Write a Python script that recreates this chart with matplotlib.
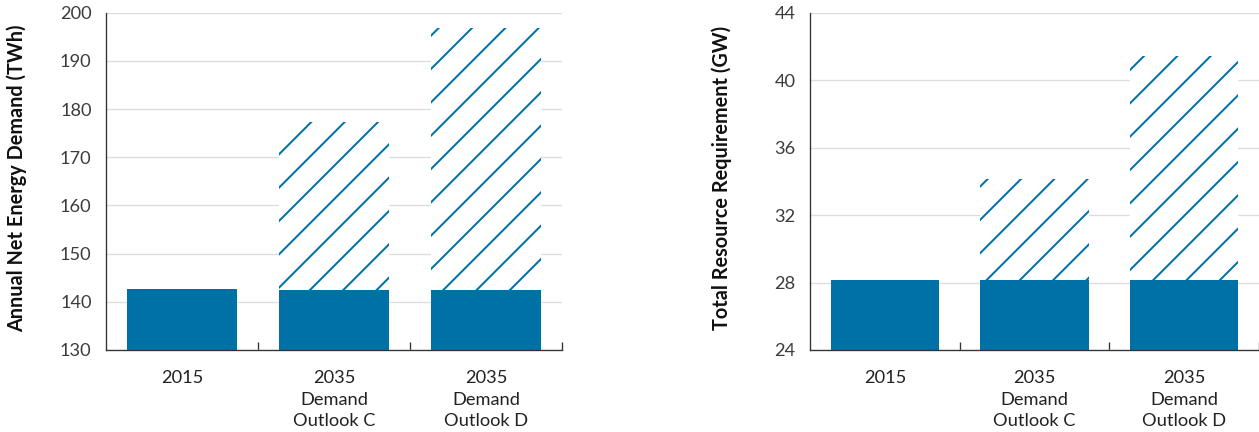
import matplotlib
matplotlib.use("Agg")
import matplotlib.pyplot as plt
import numpy as np

# ---- data ----
categories = ["2015", "2035\nDemand\nOutlook C", "2035\nDemand\nOutlook D"]
energy_base = [142.6, 142.45, 142.45]
energy_total = [142.6, 177.3, 196.8]
energy_ticks = [130, 140, 150, 160, 170, 180, 190, 200]
capacity_base = [28.15, 28.15, 28.15]
capacity_total = [28.15, 34.15, 41.45]
capacity_ticks = [24, 28, 32, 36, 40, 44]

BLUE = "#0071A7"
GRID = "#dcdcdc"
TEXT = "#3c3c3c"
SPINE = "#333333"

DPI = 100
W, H = 1259, 432
S = 1.6  # point scale relative to a 160-dpi design
plt.rcParams['font.family'] = ['Lato', 'DejaVu Sans']
plt.rcParams['hatch.linewidth'] = 0.9 * S

fig = plt.figure(figsize=(W / DPI, H / DPI), dpi=DPI)


def px_axes(x0, x1, ytop, ybot):
    return fig.add_axes([x0 / W, 1 - ybot / H, (x1 - x0) / W, (ybot - ytop) / H])


def style(ax, ylim, yticks, xmax):
    x = np.arange(len(categories))
    ax.set_xlim(-0.5, xmax)
    ax.set_ylim(*ylim)
    ax.set_yticks(yticks)
    ax.set_yticklabels([str(t) for t in yticks])
    ax.set_xticks(x)
    ax.set_xticklabels(categories, linespacing=1.42)
    ax.set_xticks(np.arange(len(categories)) + 0.5, minor=True)
    ax.tick_params(axis='x', which='major', length=0, pad=14.7, labelsize=8.2 * S, labelcolor="#222222")
    ax.tick_params(axis='x', which='minor', length=3.6 * S, width=0.6 * S, direction='in', color=SPINE)
    ax.tick_params(axis='y', length=0, pad=6.5 * S, labelsize=8.2 * S, labelcolor=TEXT)
    for s in ['top', 'right']:
        ax.spines[s].set_visible(False)
    for s in ['left', 'bottom']:
        ax.spines[s].set_color(SPINE)
        ax.spines[s].set_linewidth(0.6 * S)
    ax.yaxis.grid(True, color=GRID, linewidth=0.6 * S)
    ax.set_axisbelow(True)


def draw(ax, base, total):
    x = np.arange(len(categories))
    width = 0.724
    ax.bar(x, base, width=width, color=BLUE, linewidth=0, zorder=2)
    extra = [t - b for t, b in zip(total, base)]
    ax.bar(x, extra, width=width, bottom=base, facecolor='white', edgecolor=BLUE,
           hatch='/', linewidth=0, zorder=2)


ax1 = px_axes(106, 562, 12.7, 350)
draw(ax1, energy_base, energy_total)
style(ax1, (130, 200), energy_ticks, 2.5)

ax2 = px_axes(810, 1259, 12.7, 350)
draw(ax2, capacity_base, capacity_total)
style(ax2, (24, 44), capacity_ticks, -0.5 + (1259 - 810) / 152)

fig.text(16.5 / W, 1 - 178 / H, "Annual Net Energy Demand (TWh)", rotation=90,
         ha='center', va='center', fontsize=8.95 * S, fontweight='bold', color='#111111')
fig.text(722 / W, 1 - 178 / H, "Total Resource Requirement (GW)", rotation=90,
         ha='center', va='center', fontsize=8.95 * S, fontweight='bold', color='#111111')

fig.savefig("out.png", dpi=DPI)
